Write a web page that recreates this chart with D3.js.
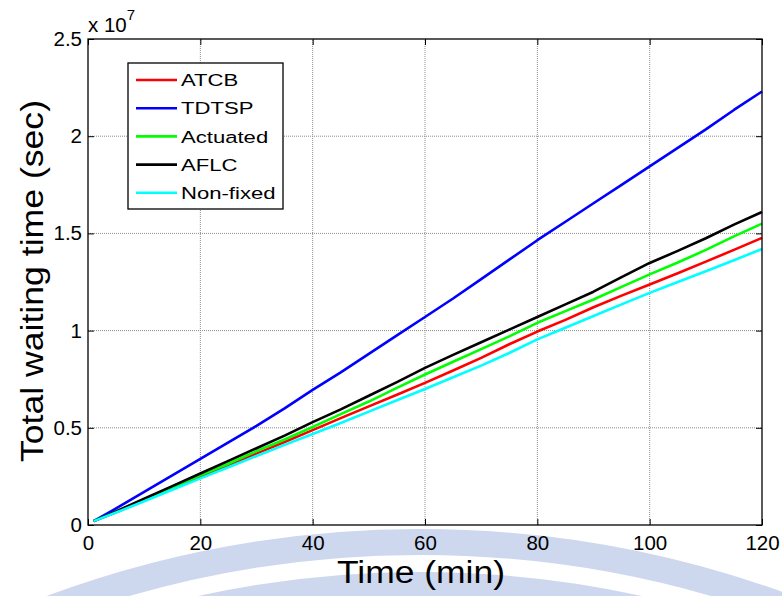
<!DOCTYPE html>
<html>
<head>
<meta charset="utf-8">
<script src="https://cdn.jsdelivr.net/npm/d3@7"></script>
<style>
body { margin: 0; background: #fff; }
text { font-family: "Liberation Sans", Arial, sans-serif; }
</style>
</head>
<body>
<script>
var w = 782;
var h = 596;
var margin = {left: 88, right: 20, top: 39, bottom: 71};

// minutes
var minutes = [1, 5, 10, 15, 20, 25, 30, 35, 40, 45, 50, 55, 60, 65, 70, 75, 80, 85, 90, 95, 100, 105, 110, 115, 120];
// total waiting time, in units of 10^6 sec
var atcb     = [0.2, 0.66, 1.26, 1.87, 2.47, 3.07, 3.67, 4.27, 4.88, 5.5, 6.1, 6.7, 7.31, 7.95, 8.6, 9.3, 9.95, 10.55, 11.2, 11.8, 12.37, 12.95, 13.55, 14.15, 14.77];
var tdtsp    = [0.2, 0.85, 1.7, 2.55, 3.4, 4.25, 5.1, 6.0, 6.95, 7.85, 8.8, 9.75, 10.7, 11.65, 12.65, 13.65, 14.65, 15.6, 16.55, 17.5, 18.45, 19.4, 20.35, 21.35, 22.3];
var actuated = [0.2, 0.68, 1.3, 1.92, 2.55, 3.15, 3.8, 4.4, 5.04, 5.7, 6.35, 7.05, 7.74, 8.4, 9.05, 9.7, 10.4, 11.0, 11.6, 12.25, 12.89, 13.5, 14.15, 14.85, 15.5];
var aflc     = [0.2, 0.7, 1.35, 2.0, 2.65, 3.3, 3.95, 4.6, 5.29, 5.95, 6.65, 7.35, 8.08, 8.75, 9.4, 10.05, 10.7, 11.35, 12.0, 12.75, 13.48, 14.1, 14.75, 15.45, 16.1];
var nonfixed = [0.2, 0.64, 1.22, 1.81, 2.4, 2.97, 3.55, 4.12, 4.68, 5.25, 5.83, 6.42, 7.0, 7.6, 8.2, 8.85, 9.55, 10.15, 10.75, 11.35, 11.94, 12.5, 13.05, 13.62, 14.2];

var seriesNames = ["ATCB", "TDTSP", "Actuated", "AFLC", "Non-fixed"];
var seriesColors = ["#ff0000", "#0000ff", "#00ff00", "#000000", "#00ffff"];
var seriesData = [atcb, tdtsp, actuated, aflc, nonfixed];

var xTicks = [0, 20, 40, 60, 80, 100, 120];
var yTicks = [0, 0.5, 1, 1.5, 2, 2.5];

var svg = d3.select("body").append("svg")
	.attr("width", w)
	.attr("height", h);

// faint watermark bands behind the figure
var wm = svg.append("g").attr("fill", "none").attr("stroke", "#cdd7ee");
wm.append("circle").attr("cx", 420).attr("cy", 1604).attr("r", 1062).attr("stroke-width", 26);
wm.append("circle").attr("cx", 420).attr("cy", 1604).attr("r", 1020).attr("stroke-width", 24);

var x = d3.scaleLinear().domain([0, 120]).range([margin.left, w - margin.right]);
var y = d3.scaleLinear().domain([0, 2.5]).range([h - margin.bottom, margin.top]);

var x0 = x.range()[0], x1 = x.range()[1];
var y0 = y.range()[0], y1 = y.range()[1];

svg.append("rect")
	.attr("x", x0).attr("y", y1)
	.attr("width", x1 - x0).attr("height", y0 - y1)
	.attr("fill", "#fff");

// grid (dotted)
svg.append("g").selectAll("line.gx")
	.data(xTicks.slice(1, -1))
	.enter().append("line")
	.attr("x1", function(d){ return x(d); })
	.attr("x2", function(d){ return x(d); })
	.attr("y1", y0).attr("y2", y1)
	.attr("stroke", "#8c8c8c").attr("stroke-width", 1).attr("stroke-dasharray", "1,1");
svg.append("g").selectAll("line.gy")
	.data(yTicks.slice(1, -1))
	.enter().append("line")
	.attr("y1", function(d){ return y(d); })
	.attr("y2", function(d){ return y(d); })
	.attr("x1", x0).attr("x2", x1)
	.attr("stroke", "#8c8c8c").attr("stroke-width", 1).attr("stroke-dasharray", "1,1");

// lines
var line = d3.line()
	.x(function(d, i){ return x(minutes[i]); })
	.y(function(d){ return y(d / 10); });

svg.append("g").selectAll("path")
	.data(seriesData)
	.enter().append("path")
	.attr("d", function(d){ return line(d); })
	.attr("fill", "none")
	.attr("stroke", function(d, i){ return seriesColors[i]; })
	.attr("stroke-width", 2.6)
	.attr("stroke-linejoin", "round");

// axes (MATLAB style: inward ticks on all sides)
var fontSize = 20.5;
svg.append("g")
	.attr("transform", "translate(0," + y0 + ")")
	.call(d3.axisBottom(x).tickValues(xTicks).tickSize(-6).tickPadding(10))
	.call(function(g){
		g.select(".domain").remove();
		g.selectAll("text").attr("font-size", fontSize).attr("fill", "#000").attr("dy", "0.72em");
	});
svg.append("g")
	.attr("transform", "translate(0," + y1 + ")")
	.call(d3.axisTop(x).tickValues(xTicks).tickSize(-6).tickFormat(""))
	.call(function(g){ g.select(".domain").remove(); });
svg.append("g")
	.attr("transform", "translate(" + x0 + ",0)")
	.call(d3.axisLeft(y).tickValues(yTicks).tickSize(-6).tickPadding(6).tickFormat(function(d){ return d; }))
	.call(function(g){
		g.select(".domain").remove();
		g.selectAll("text").attr("font-size", fontSize).attr("fill", "#000");
	});
svg.append("g")
	.attr("transform", "translate(" + x1 + ",0)")
	.call(d3.axisRight(y).tickValues(yTicks).tickSize(-6).tickFormat(""))
	.call(function(g){ g.select(".domain").remove(); });

svg.append("rect")
	.attr("x", x0).attr("y", y1)
	.attr("width", x1 - x0).attr("height", y0 - y1)
	.attr("fill", "none").attr("stroke", "#000").attr("stroke-width", 1.3);

// exponent label
var expo = svg.append("text")
	.attr("x", x0).attr("y", 32)
	.attr("font-size", fontSize);
expo.append("tspan").text("x 10");
expo.append("tspan").attr("font-size", 15).attr("dy", -12).text("7");

// axis titles
svg.append("text")
	.attr("x", 421).attr("y", 583)
	.attr("text-anchor", "middle")
	.attr("font-size", 31)
	.attr("textLength", 168).attr("lengthAdjust", "spacingAndGlyphs")
	.text("Time (min)");
svg.append("text")
	.attr("transform", "translate(43," + 281 + ") rotate(-90)")
	.attr("text-anchor", "middle")
	.attr("font-size", 31)
	.attr("textLength", 362).attr("lengthAdjust", "spacingAndGlyphs")
	.text("Total waiting time (sec)");

// legend
var lg = svg.append("g").attr("transform", "translate(128,63)");
lg.append("rect")
	.attr("width", 155).attr("height", 146)
	.attr("fill", "#fff").attr("stroke", "#000").attr("stroke-width", 1.3);
var items = lg.selectAll("g.item")
	.data(seriesNames)
	.enter().append("g")
	.attr("transform", function(d, i){ return "translate(0," + (17 + i * 28.2) + ")"; });
items.append("line")
	.attr("x1", 8).attr("x2", 49)
	.attr("stroke", function(d, i){ return seriesColors[i]; })
	.attr("stroke-width", 2.6);
items.append("text")
	.attr("transform", "translate(53,0) scale(1.3,1)")
	.attr("dy", "0.36em")
	.attr("font-size", 17)
	.text(function(d){ return d; });
</script>
</body>
</html>
